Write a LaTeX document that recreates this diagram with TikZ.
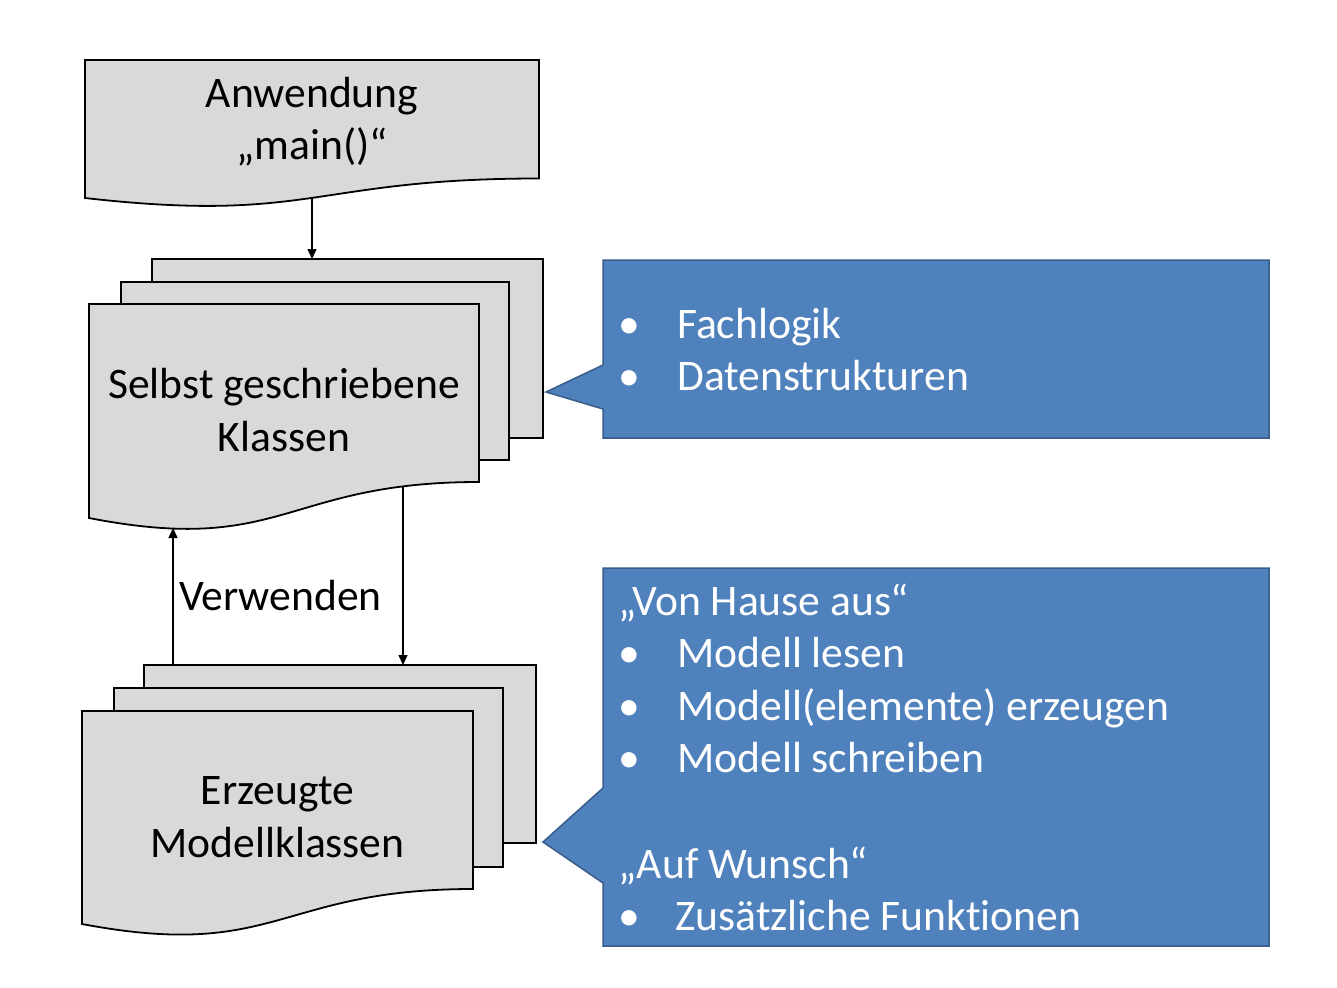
\documentclass[tikz,border=0pt]{standalone}
\usepackage{fontspec}
\setmainfont[Ligatures=NoCommon]{Carlito}
\usetikzlibrary{arrows.meta}
\definecolor{sheetfill}{HTML}{D9D9D9}
\definecolor{callfill}{HTML}{4F81BD}
\definecolor{calldraw}{HTML}{385D8A}
\tikzset{
  sheet/.style={draw=black, fill=sheetfill, line width=1.8pt, line join=miter},
  callout/.style={draw=calldraw, fill=callfill, line width=1.5pt},
  boxtext/.style={anchor=base, inner sep=0pt, font=\fontsize{43.6}{52.6}\selectfont, text=black},
  calltext/.style={anchor=base west, inner sep=0pt, font=\fontsize{43.6}{52.6}\selectfont, text=white},
  conn/.style={line width=1.4pt, -{Triangle[length=10pt,width=9pt]}}
}
\begin{document}
\begin{tikzpicture}[x=1pt,y=-1pt]
\useasboundingbox (0,0) rectangle (1337,987);
\fill[white] (0,0) rectangle (1337,987);

% top document
\draw[sheet] (85,60) -- (539,60) -- (539,178.5) .. controls (312,178.5) and (312,223.7) .. (85,198) -- cycle;
\node[boxtext] (anw1) at (312,108) {Anwendung};
\node[boxtext] (anw2) at (312,160) {„main()“};
\coordinate (anwbottom) at (312,198);

% multidocument 1
\draw[sheet] (152,259) rectangle (543,438);
\draw[sheet] (121,282) rectangle (509,460);
\draw[sheet] (89,304) -- (479,304) -- (479,482) .. controls (284,482) and (284,556) .. (89,518) -- cycle;
\node[boxtext] (sel1) at (284,398) {Selbst geschriebene};
\node[boxtext] (sel2) at (284,451) {Klassen};
\coordinate (seltop) at (312,259);
\coordinate (selbottomL) at (173,528);
\coordinate (selbottomR) at (403,487);

% multidocument 2
\draw[sheet] (144,665) rectangle (536,843);
\draw[sheet] (114,688) rectangle (503,867);
\draw[sheet] (82,711) -- (473,711) -- (473,889) .. controls (277.5,889) and (277.5,961) .. (82,924) -- cycle;
\node[boxtext] (erz1) at (277.5,804) {Erzeugte};
\node[boxtext] (erz2) at (277.5,857) {Modellklassen};
\coordinate (erztopL) at (173,665);
\coordinate (erztopR) at (403,665);

% connectors
\draw[conn] (anwbottom) -- (seltop);
\draw[conn] (erztopL) -- (selbottomL);
\draw[conn] (selbottomR) -- (erztopR);
\node[boxtext, anchor=base west] (verw) at (179,610) {Verwenden};

% callout 1
\draw[callout] (603,260) -- (1269,260) -- (1269,438) -- (603,438) -- (603,409) -- (546,392) -- (603,365) -- cycle;
\node[calltext] (b1) at (618,338) {•};
\node[calltext] (t1) at (677,338) {Fachlogik};
\node[calltext] (b2) at (618,390.6) {•};
\node[calltext] (t2) at (677,390.6) {Datenstrukturen};

% callout 2
\draw[callout] (603,568) -- (1269,568) -- (1269,946) -- (603,946) -- (603,883) -- (543,842) -- (603,788) -- cycle;
\node[calltext] (h1) at (618,615) {„Von Hause aus“};
\node[calltext] (b3) at (618,667.6) {•};
\node[calltext] (t3) at (677,667.6) {Modell lesen};
\node[calltext] (b4) at (618,720.2) {•};
\node[calltext] (t4) at (677,720.2) {Modell(elemente) erzeugen};
\node[calltext] (b5) at (618,772.8) {•};
\node[calltext] (t5) at (677,772.8) {Modell schreiben};
\node[calltext] (h2) at (618,878) {„Auf Wunsch“};
\node[calltext] (b6) at (618,930.6) {•};
\node[calltext] (t6) at (675,930.6) {Zusätzliche Funktionen};
\end{tikzpicture}
\end{document}
